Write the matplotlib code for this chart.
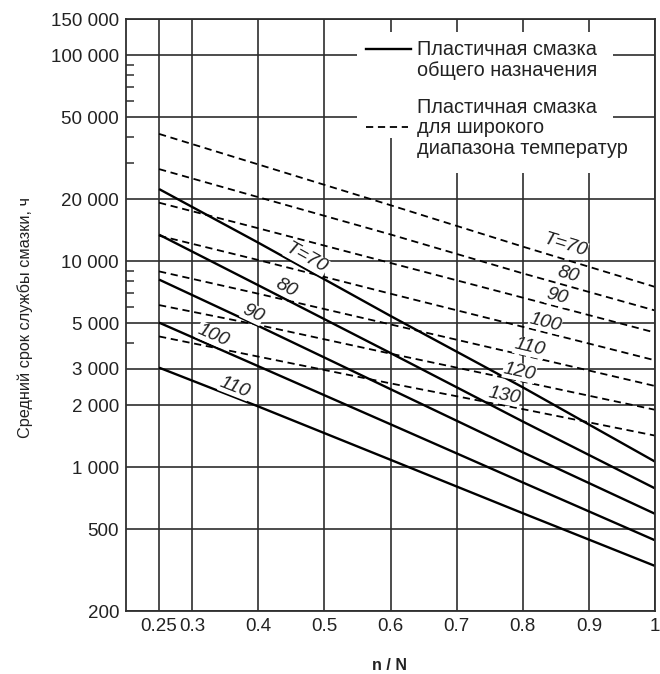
import numpy as np
import matplotlib
matplotlib.use("Agg")
import matplotlib.pyplot as plt
from matplotlib.patches import Rectangle
from matplotlib.lines import Line2D
from matplotlib.ticker import FixedLocator, NullFormatter

plt.rcParams['font.family'] = ['Liberation Sans', 'DejaVu Sans']

# ---------------- data ----------------
x_solid = [0.25, 0.4, 0.6, 0.8, 1.0]
solid_T70 = [22400, 12300, 5420, 2440, 1063]
solid_T80 = [13450, 7640, 3580, 1665, 788]
solid_T90 = [8140, 4850, 2390, 1180, 593]
solid_T100 = [5030, 3090, 1614, 842, 441]
solid_T110 = [3040, 1970, 1085, 597, 331]

x_dashed = [0.25, 0.4, 0.6, 0.8, 1.0]
dashed_T70 = [41500, 29500, 18700, 11770, 7500]
dashed_T80 = [28000, 20460, 13480, 8725, 5760]
dashed_T90 = [19230, 14450, 9800, 6650, 4500]
dashed_T100 = [13300, 10130, 6950, 4800, 3300]
dashed_T110 = [8920, 6950, 4930, 3500, 2476]
dashed_T120 = [6120, 4900, 3556, 2600, 1898]
dashed_T130 = [4310, 3440, 2550, 1912, 1422]

solid_labels = ["T=70", "80", "90", "100", "110"]
dashed_labels = ["T=70", "80", "90", "100", "110", "120", "130"]

x_ticks = [0.25, 0.3, 0.4, 0.5, 0.6, 0.7, 0.8, 0.9, 1.0]
x_ticklabels = ["0.25", "0.3", "0.4", "0.5", "0.6", "0.7", "0.8", "0.9", "1"]
y_ticks = [200, 500, 1000, 2000, 3000, 5000, 10000, 20000, 50000, 100000, 150000]
y_ticklabels = ["200", "500", "1 000", "2 000", "3 000", "5 000", "10 000",
                "20 000", "50 000", "100 000", "150 000"]
y_minor = [4000, 6000, 7000, 8000, 9000, 30000, 40000, 60000, 70000, 80000, 90000]

legend_solid = "Пластичная смазка\nобщего назначения"
legend_dashed = "Пластичная смазка\nдля широкого\nдиапазона температур"
xlabel = "n / N"
ylabel = "Средний срок службы смазки, ч"

# ---------------- layout ----------------
W, H = 660, 674
fig = plt.figure(figsize=(W / 100, H / 100), dpi=100)
L, R, T, B = 126, 655, 19, 611
ax = fig.add_axes([L / W, 1 - B / H, (R - L) / W, (B - T) / H])
ax.set_yscale('log')
ax.set_xlim(0.2, 1.0)
ax.set_ylim(200, 150000)

gc = '#2e2e2e'
ax.set_xticks(x_ticks)
ax.set_xticklabels(x_ticklabels)
ax.set_yticks(y_ticks)
ax.set_yticklabels(y_ticklabels)
ax.yaxis.set_minor_locator(FixedLocator(y_minor))
ax.yaxis.set_minor_formatter(NullFormatter())
ax.xaxis.set_minor_locator(FixedLocator([]))
ax.set_axisbelow(True)
ax.grid(True, which='major', color=gc, lw=1.2)
ax.tick_params(which='major', length=0, pad=5, labelsize=13.5, labelcolor='#222')
ax.tick_params(axis='y', which='minor', direction='in', length=6, width=1.1, color=gc)
for s in ax.spines.values():
    s.set_color(gc)
    s.set_linewidth(1.3)

# white area behind the legend
ax.add_patch(Rectangle((0.437, 0.799), 0.9206 - 0.437, 0.978 - 0.799,
                       transform=ax.transAxes, facecolor='white', edgecolor='none', zorder=1.5))
ax.add_patch(Rectangle((0.54, 0.740), 0.9206 - 0.54, 0.799 - 0.740 + 0.001,
                       transform=ax.transAxes, facecolor='white', edgecolor='none', zorder=1.5))

solid_series = [solid_T70, solid_T80, solid_T90, solid_T100, solid_T110]
dashed_series = [dashed_T70, dashed_T80, dashed_T90, dashed_T100, dashed_T110,
                 dashed_T120, dashed_T130]

for ys in solid_series:
    ax.plot(x_solid, ys, color='black', lw=1.7, solid_capstyle='butt', zorder=2)
for ys in dashed_series:
    ax.plot(x_dashed, ys, color='black', lw=1.3, dashes=(4, 2.6), zorder=2)


def place_label(xs, ys, xl, text, dy):
    lv = np.log10(ys)
    yl = 10 ** np.interp(xl, xs, lv)
    p1 = ax.transData.transform((xl - 0.03, 10 ** np.interp(xl - 0.03, xs, lv)))
    p2 = ax.transData.transform((xl + 0.03, 10 ** np.interp(xl + 0.03, xs, lv)))
    ang = np.degrees(np.arctan2(p2[1] - p1[1], p2[0] - p1[0]))
    ax.annotate(text, (xl, yl), xytext=(0, dy), textcoords='offset pixels',
                rotation=ang, rotation_mode='anchor', ha='center', va='center',
                fontsize=14, style='italic', color='#222', zorder=3,
                bbox=dict(facecolor='white', edgecolor='none', pad=0.3))


solid_lab_x = [0.473, 0.442, 0.392, 0.332, 0.365]
solid_lab_dy = [11, 12, 10, 11, 10]
for ys, t, xl, dy in zip(solid_series, solid_labels, solid_lab_x, solid_lab_dy):
    place_label(x_solid, ys, xl, t, dy)

dashed_lab_x = [0.864, 0.868, 0.852, 0.834, 0.810, 0.795, 0.772]
dashed_lab_dy = [14, 11, 10, 10, 9, 9, 10]
for ys, t, xl, dy in zip(dashed_series, dashed_labels, dashed_lab_x, dashed_lab_dy):
    place_label(x_dashed, ys, xl, t, dy)

# legend drawn by hand
ax.add_line(Line2D([0.4537, 0.5388], [0.950, 0.950], transform=ax.transAxes,
                   color='black', lw=1.7, zorder=3))
ax.add_line(Line2D([0.4537, 0.5331], [0.8176, 0.8176], transform=ax.transAxes,
                   color='black', lw=1.3, dashes=(4, 2.6), zorder=3))
ax.text(0.550, 0.9307, legend_solid, transform=ax.transAxes, ha='left', va='center',
        fontsize=14.3, color='#222', linespacing=1.12, zorder=3)
ax.text(0.550, 0.8162, legend_dashed, transform=ax.transAxes, ha='left', va='center',
        fontsize=14.3, color='#222', linespacing=1.12, zorder=3)

fig.text(390 / W, 1 - 665 / H, xlabel, ha='center', va='center', fontsize=11.5,
         weight='bold', color='#222')
fig.text(25 / W, 1 - 317 / H, ylabel, ha='center', va='center', rotation=90,
         fontsize=11.7, color='#222')

fig.savefig('out.png', dpi=100, facecolor='white')
